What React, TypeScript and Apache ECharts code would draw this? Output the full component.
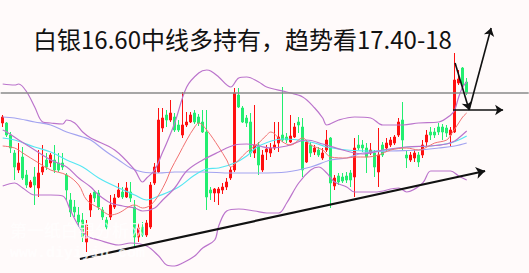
import React, { useEffect, useRef } from 'react';
import * as echarts from 'echarts';

// Candles: [open, close, low, high]
const candles: number[][] = [
  [16.30, 16.36, 16.26, 16.38], [16.30, 16.18, 16.16, 16.31], [16.18, 16.05, 16.00, 16.21], [16.00, 15.86, 15.73, 16.03],
  [15.83, 15.90, 15.80, 16.10], [15.96, 15.75, 15.73, 16.06], [15.78, 15.68, 15.65, 15.83], [15.66, 15.71, 15.65, 15.73],
  [15.76, 15.68, 15.48, 15.86], [15.65, 15.80, 15.56, 16.03], [15.81, 15.86, 15.78, 16.08], [15.93, 15.86, 15.83, 16.00],
  [15.90, 15.98, 15.86, 16.00], [15.93, 15.83, 15.80, 16.08], [15.90, 15.83, 15.81, 16.00], [15.90, 15.86, 15.83, 16.00],
  [15.78, 15.63, 15.53, 15.80], [15.53, 15.41, 15.36, 15.60], [15.46, 15.41, 15.36, 15.53], [15.38, 15.31, 15.26, 15.46],
  [15.33, 15.16, 15.11, 15.40], [15.11, 15.28, 15.01, 15.33], [15.43, 15.58, 15.36, 15.60], [15.61, 15.55, 15.51, 15.63],
  [15.60, 15.46, 15.43, 15.63], [15.43, 15.36, 15.33, 15.46], [15.33, 15.26, 15.23, 15.36], [15.36, 15.48, 15.33, 15.58],
  [15.46, 15.55, 15.44, 15.59], [15.56, 15.63, 15.55, 15.70], [15.61, 15.56, 15.54, 15.66], [15.56, 15.65, 15.55, 15.71],
  [15.61, 15.55, 15.51, 15.71], [15.46, 15.16, 15.05, 15.53], [15.16, 15.25, 15.11, 15.30], [15.26, 15.18, 15.16, 15.31],
  [15.18, 15.30, 15.16, 15.33], [15.26, 15.68, 15.24, 15.71], [15.70, 15.86, 15.68, 15.90], [15.81, 16.33, 15.80, 16.45],
  [16.25, 16.35, 16.21, 16.45], [16.38, 16.33, 16.26, 16.43], [16.33, 16.40, 16.31, 16.53], [16.36, 16.23, 16.21, 16.40],
  [16.28, 16.23, 16.21, 16.33], [16.18, 16.28, 16.15, 16.61], [16.28, 16.31, 16.26, 16.41], [16.31, 16.38, 16.30, 16.41],
  [16.40, 16.31, 16.29, 16.43], [16.36, 16.30, 16.27, 16.39], [16.31, 16.21, 16.20, 16.43], [16.21, 15.56, 15.43, 16.43],
  [15.63, 15.60, 15.53, 15.66], [15.60, 15.64, 15.51, 15.65], [15.60, 15.64, 15.48, 15.66], [15.63, 15.66, 15.59, 15.70],
  [15.66, 15.71, 15.63, 15.75], [15.75, 15.83, 15.73, 15.86], [15.83, 16.60, 15.81, 16.65], [16.58, 16.46, 16.45, 16.65],
  [16.45, 16.31, 16.30, 16.47], [16.35, 16.30, 16.26, 16.38], [16.31, 16.00, 15.96, 16.40], [16.00, 16.08, 15.95, 16.48],
  [16.08, 15.88, 15.78, 16.11], [15.83, 15.98, 15.81, 16.03], [16.01, 16.04, 15.93, 16.08], [16.00, 16.05, 15.96, 16.10],
  [16.05, 16.08, 16.03, 16.31], [16.10, 16.16, 16.01, 16.31], [16.18, 16.13, 16.11, 16.66], [16.16, 16.13, 16.10, 16.20],
  [16.11, 16.17, 16.10, 16.38], [16.16, 16.26, 16.15, 16.30], [16.31, 16.28, 16.20, 16.36], [16.26, 15.83, 15.76, 16.35],
  [15.91, 16.11, 15.90, 16.13], [16.08, 16.00, 15.96, 16.11], [16.01, 16.05, 15.98, 16.08], [16.03, 15.98, 15.96, 16.06],
  [15.95, 16.00, 15.93, 16.05], [16.03, 16.13, 16.01, 16.23], [16.15, 15.70, 15.45, 16.16], [15.67, 15.75, 15.63, 15.78],
  [15.77, 15.71, 15.68, 15.80], [15.76, 15.72, 15.70, 15.80], [15.77, 15.73, 15.70, 15.81], [15.80, 15.73, 15.66, 15.83],
  [15.76, 16.05, 15.56, 16.15], [16.08, 16.05, 16.03, 16.18], [16.08, 16.05, 16.01, 16.13], [16.05, 15.96, 15.80, 16.10],
  [16.00, 16.03, 15.98, 16.10], [16.00, 15.86, 15.76, 16.03], [15.81, 15.98, 15.66, 16.25], [16.08, 15.98, 15.96, 16.11],
  [16.05, 16.10, 16.01, 16.15], [16.08, 16.13, 16.06, 16.16], [16.10, 16.16, 16.08, 16.18], [16.18, 16.31, 16.16, 16.35],
  [16.33, 16.13, 16.03, 16.51], [15.98, 15.95, 15.85, 16.03], [15.93, 15.98, 15.91, 16.01], [15.95, 16.00, 15.91, 16.03],
  [15.98, 15.91, 15.86, 16.01], [15.98, 16.08, 15.95, 16.13], [16.11, 16.18, 16.06, 16.23], [16.21, 16.18, 16.13, 16.26],
  [16.21, 16.18, 16.15, 16.25], [16.26, 16.21, 16.18, 16.30], [16.26, 16.21, 16.13, 16.29], [16.25, 16.20, 16.16, 16.28],
  [16.18, 16.23, 16.06, 16.26], [16.21, 16.73, 16.20, 17.00], [16.70, 16.74, 16.68, 16.83], [16.85, 16.68, 16.66, 16.86],
  [16.71, 16.60, 16.58, 16.75],
];

// Indicator lines read at sample points: [candle index, price]
const upperBand: number[][] = [
  [0, 16.69], [3, 16.68], [4, 16.69], [6, 16.61], [8, 16.46], [10, 16.31], [12, 16.30], [15, 16.29], [16, 16.33],
  [18, 16.30], [20, 16.21], [22, 16.15], [28, 16.03], [33, 15.83], [35, 15.71], [36, 15.75], [38, 15.83], [40, 16.01],
  [41, 16.10], [43, 16.30], [46, 16.66], [49, 16.80], [51, 16.83], [52, 16.82], [54, 16.76], [57, 16.66], [59, 16.75],
  [61, 16.76], [64, 16.71], [66, 16.66], [71, 16.61], [75, 16.56], [78, 16.45], [80, 16.35], [81, 16.28], [84, 16.33],
  [88, 16.36], [92, 16.35], [95, 16.28], [100, 16.28], [104, 16.30], [109, 16.31], [112, 16.38], [113, 16.43],
  [114, 16.56], [115, 16.66], [116, 16.71],
];
const middleBand: number[][] = [
  [0, 16.23], [1, 16.21], [4, 16.13], [8, 16.03], [12, 15.93], [16, 15.86], [19, 15.75], [22, 15.66], [24, 15.58],
  [27, 15.50], [30, 15.47], [33, 15.45], [35, 15.42], [38, 15.45], [40, 15.53], [43, 15.65], [46, 15.82], [50, 15.93],
  [54, 16.01], [58, 16.08], [61, 16.09], [64, 16.07], [67, 16.05], [71, 16.07], [76, 16.13], [80, 16.09], [85, 16.03],
  [90, 15.99], [95, 16.03], [101, 16.06], [107, 16.07], [111, 16.09], [113, 16.12], [114, 16.15], [116, 16.22],
];
const lowerBand: number[][] = [
  [0, 15.67], [3, 15.70], [5, 15.65], [8, 15.58], [12, 15.58], [15, 15.57], [17, 15.42], [19, 15.27], [21, 15.17],
  [24, 15.13], [29, 15.08], [32, 15.10], [36, 15.07], [39, 14.97], [41, 14.88], [43, 14.87], [45, 14.90], [48, 14.97],
  [50, 15.05], [53, 15.13], [54, 15.27], [56, 15.42], [59, 15.44], [63, 15.42], [66, 15.40], [69, 15.40], [71, 15.50],
  [74, 15.70], [77, 15.83], [79, 15.86], [81, 15.80], [83, 15.71], [86, 15.66], [88, 15.61], [93, 15.61], [99, 15.65],
  [101, 15.61], [105, 15.70], [107, 15.82], [110, 15.82], [112, 15.82], [114, 15.77], [116, 15.73],
];
const fastMA: number[][] = [
  [0, 16.07], [3, 16.05], [5, 16.00], [9, 15.90], [12, 15.83], [16, 15.78], [19, 15.68], [21, 15.53], [24, 15.45],
  [27, 15.38], [29, 15.40], [33, 15.48], [35, 15.45], [37, 15.48], [39, 15.58], [41, 15.73], [42, 15.83], [44, 15.98],
  [46, 16.13], [48, 16.26], [49, 16.30], [51, 16.23], [54, 16.06], [56, 15.93], [57, 15.86], [59, 15.93], [61, 16.01],
  [64, 16.10], [66, 16.18], [67, 16.21], [70, 16.11], [72, 16.08], [75, 16.15], [77, 16.08], [80, 16.03], [82, 15.96],
  [86, 15.95], [88, 15.96], [91, 15.96], [94, 15.98], [97, 16.03], [101, 16.05], [104, 16.03], [107, 16.08],
  [108, 16.10], [111, 16.13], [112, 16.18], [114, 16.30], [115, 16.36], [116, 16.40],
];
const midMA: number[][] = [
  [0, 16.15], [3, 16.13], [8, 16.06], [12, 16.01], [16, 15.93], [20, 15.86], [24, 15.75], [29, 15.65], [33, 15.58],
  [36, 15.53], [39, 15.57], [44, 15.66], [48, 15.78], [51, 15.84], [54, 15.85], [58, 15.90], [61, 15.97], [64, 16.07],
  [70, 16.14], [74, 16.13], [78, 16.10], [81, 16.06], [86, 16.03], [93, 16.02], [101, 16.06], [107, 16.07],
  [112, 16.10], [114, 16.13], [116, 16.17],
];
const slowMA: number[][] = [
  [0, 16.36], [3, 16.35], [8, 16.31], [12, 16.28], [16, 16.21], [20, 16.16], [22, 16.13], [26, 16.01], [29, 15.93],
  [32, 15.85], [35, 15.81], [39, 15.80], [43, 15.81], [50, 15.81], [57, 15.80], [64, 15.80], [71, 15.81], [77, 15.86],
  [82, 15.93], [86, 15.95], [90, 16.00], [97, 16.02], [104, 16.03], [109, 16.05], [113, 16.07], [116, 16.10],
];

const keyLevel = 16.60;
const trendLine: number[][] = [[19.3, 14.94], [120.6, 15.82]];
const pathDown: number[][] = [[113.1, 16.90], [116.6, 16.43]];
const pathUp: number[][] = [[116.6, 16.43], [122.1, 17.25]];
const pathFlat: number[][] = [[112.6, 16.43], [125.1, 16.43]];

const TOTAL_SLOTS = 132;
const Y_MIN = 14.8;
const Y_MAX = 17.53;

const titleText = '白银16.60中线多持有，趋势看17.40-18';
const watermarkCn = '第一纸白银分析网';
const watermarkEn = 'www.diyiyin.com';

export default function App() {
  const ref = useRef<HTMLDivElement>(null);
  useEffect(() => {
    const chart = echarts.init(ref.current as HTMLDivElement, null, { renderer: 'svg' });
    const slots = Array.from({ length: TOTAL_SLOTS }, (_, i) => String(i + 1));
    const lineSeries = (data: number[][], color: string, width: number) => ({
      type: 'line',
      xAxisIndex: 1,
      yAxisIndex: 0,
      data,
      smooth: 0.35,
      showSymbol: false,
      silent: true,
      lineStyle: { color, width },
      z: 3,
    });
    const seg = (pts: number[][]) => [{ coord: pts[0] }, { coord: pts[1] }];
    chart.setOption({
      animation: false,
      backgroundColor: '#fffafa',
      grid: { left: 0.7, right: 0.3, top: 0, bottom: 0 },
      xAxis: [
        {
          type: 'category',
          data: slots,
          boundaryGap: true,
          show: false,
        },
        {
          type: 'value',
          min: -0.5,
          max: TOTAL_SLOTS - 0.5,
          show: false,
        },
      ],
      yAxis: {
        type: 'value',
        min: Y_MIN,
        max: Y_MAX,
        show: false,
        splitLine: { show: false },
      },
      series: [
        {
          type: 'line',
          xAxisIndex: 1,
          data: [],
          silent: true,
          markLine: {
            silent: true,
            symbol: 'none',
            label: { show: false },
            lineStyle: { color: '#8a8a8a', width: 1.5, type: 'solid' },
            data: [{ yAxis: keyLevel }],
          },
          z: 1,
        },
        {
          type: 'candlestick',
          data: candles,
          barWidth: 2.6,
          silent: true,
          itemStyle: {
            color: '#ff1010',
            color0: '#22ee70',
            borderColor: '#ff1010',
            borderColor0: '#22ee70',
            borderWidth: 1,
          },
          z: 2,
        },
        lineSeries(slowMA, '#a3a3f0', 1.2),
        lineSeries(midMA, '#55e6f2', 1.2),
        lineSeries(upperBand, '#bb74cc', 1.2),
        lineSeries(middleBand, '#bb74cc', 1.2),
        lineSeries(lowerBand, '#bb74cc', 1.2),
        lineSeries(fastMA, '#f27272', 1),
        {
          type: 'line',
          xAxisIndex: 1,
          data: [],
          silent: true,
          z: 6,
          markLine: {
            silent: true,
            symbol: ['none', 'arrow'],
            symbolSize: 9,
            label: { show: false },
            lineStyle: { color: '#111111', width: 2.2, type: 'solid' },
            data: [seg(trendLine)],
          },
        },
        {
          type: 'line',
          xAxisIndex: 1,
          data: [],
          silent: true,
          z: 6,
          markLine: {
            silent: true,
            symbol: ['none', 'arrow'],
            symbolSize: 8,
            label: { show: false },
            lineStyle: { color: '#111111', width: 1.6, type: 'solid' },
            data: [seg(pathDown), seg(pathUp), seg(pathFlat)],
          },
        },
      ],
      graphic: [
        {
          type: 'text',
          left: 33,
          top: 26,
          z: 10,
          style: {
            text: titleText,
            fontSize: 24,
            fontFamily: '"Noto Sans CJK SC", sans-serif',
            fill: '#111111',
          },
        },
        {
          type: 'text',
          left: 10,
          top: 221,
          z: 10,
          style: {
            text: watermarkCn,
            fontSize: 17,
            fontFamily: '"Noto Sans CJK SC", sans-serif',
            fill: 'rgba(255,255,255,0.8)',
          },
        },
        {
          type: 'text',
          left: 10,
          top: 246,
          z: 10,
          style: {
            text: watermarkEn,
            fontSize: 15,
            fontFamily: '"Liberation Mono", monospace',
            fontWeight: 'bold',
            fill: 'rgba(255,255,255,0.8)',
          },
        },
      ],
    });
    return () => chart.dispose();
  }, []);
  return (
    <div
      ref={ref}
      style={{ position: 'absolute', left: 0, top: 0, width: 529, height: 273 }}
    />
  );
}
